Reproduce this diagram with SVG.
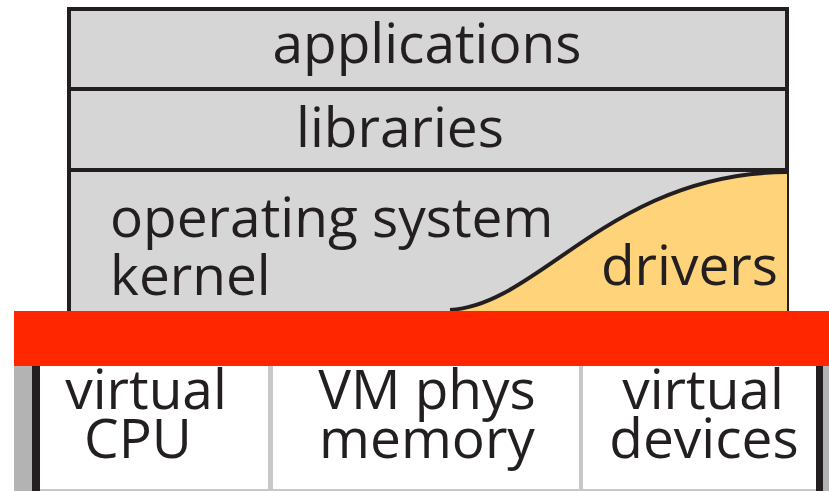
<svg xmlns="http://www.w3.org/2000/svg" width="829" height="491" viewBox="0 0 829 491">
<style>
.t{font-family:"Open Sans","Noto Sans","Liberation Sans",sans-serif;font-size:55px;fill:#231f20}
.m{text-anchor:middle}
.box{fill:#d6d6d6;stroke:#231f20;stroke-width:4}
</style>
<rect width="829" height="491" fill="#fff"/>
<g id="applications"><rect class="box" x="69" y="9" width="718" height="80"/><text class="t m" x="427" y="63">applications</text></g>
<g id="libraries"><rect class="box" x="69" y="89" width="718" height="81"/><text class="t m" x="400" y="147">libraries</text></g>
<g id="kernel"><rect class="box" x="69" y="170" width="718" height="150"/>
<text class="t" x="110" y="237">operating system</text><text class="t" x="110" y="295">kernel</text></g>
<g id="drivers"><path d="M 450 310 C 540 305 610 173 787 172 L 787 320 L 450 320 Z" fill="#fed37a"/>
<path d="M 450 310 C 540 305 610 173 787 172" fill="none" stroke="#231f20" stroke-width="4"/>
<text class="t" x="778" y="285" text-anchor="end">drivers</text></g>
<g id="hypervisor"><rect x="14" y="311" width="815" height="55" fill="#ff2600"/></g>
<g id="vm">
<rect x="14" y="366" width="18" height="125" fill="#b3b3b3"/>
<rect x="32" y="366" width="8" height="125" fill="#231f20"/>
<rect x="816" y="366" width="7" height="125" fill="#231f20"/>
<rect x="823" y="366" width="6" height="125" fill="#b3b3b3"/>
<rect x="268" y="366" width="5" height="125" fill="#c8c8c8"/>
<rect x="579" y="366" width="4" height="125" fill="#c8c8c8"/>
<rect x="40" y="489" width="776" height="2" fill="#c8c8c8"/>
</g>
<g id="vcpu"><text class="t m" x="146" y="409">virtual</text><text class="t m" x="138" y="458">CPU</text></g>
<g id="vmem"><text class="t m" x="427" y="409">VM phys</text><text class="t m" x="427" y="458">memory</text></g>
<g id="vdev"><text class="t m" x="703" y="409">virtual</text><text class="t m" x="704" y="458">devices</text></g>
</svg>
